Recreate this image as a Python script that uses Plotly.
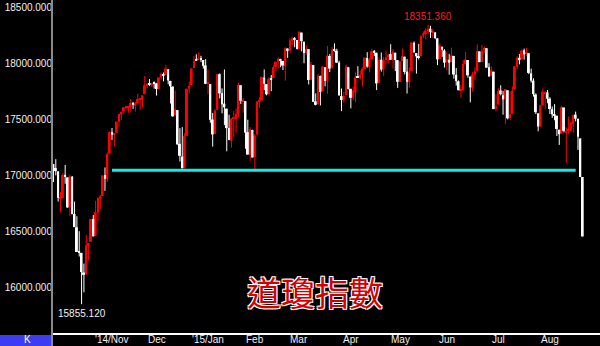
import pandas as pd
import plotly.graph_objects as go

# ---------------- data (Dow Jones daily OHLC, 2014-09-29 .. 2015-08-21) ----------------
holidays = ["2014-11-27", "2014-12-25", "2015-01-01", "2015-01-19", "2015-02-16",
            "2015-04-03", "2015-05-25", "2015-07-03"]
days = pd.bdate_range("2014-09-29", "2015-08-21")
dates = [d.strftime("%Y-%m-%d") for d in days if d.strftime("%Y-%m-%d") not in holidays]

opens = [
    17107, 17071,
    17041, 16800, 16802, 17010, 16987, 16720, 16993, 16660, 16542, 16324, 16313, 16139,
    16121, 16377, 16413, 16614, 16464, 16674, 16797, 16822, 17006, 16974, 17200,
    17390, 17366, 17386, 17483, 17549, 17574, 17613, 17610, 17615, 17655, 17627, 17648,
    17684, 17680, 17730, 17811, 17819, 17814, 17830,
    17827, 17776, 17880, 17910, 17904, 17952, 17849, 17798, 17540, 17588, 17287, 17173,
    17069, 17357, 17781, 17812, 17964, 18031, 18040, 18046, 18035, 17987,
    17823, 17821, 17504, 17374, 17592, 17908, 17740, 17646, 17601, 17428, 17315, 17511,
    17509, 17552, 17810, 17668, 17668, 17391, 17189, 17411,
    17169, 17370, 17665, 17673, 17878, 17819, 17729, 17869, 17874, 17974, 18020, 18039,
    18027, 17983, 18138, 18118, 18208, 18222, 18213,
    18134, 18280, 18199, 18101, 18132, 17859, 17990, 17665, 17640, 17893, 17756, 17970,
    17850, 18071, 17962, 18126, 18117, 18012, 17713, 17680, 17722, 17970,
    17778, 17699, 17748, 17880, 17875, 17902, 17953, 18053, 17971, 18040, 18107, 18100,
    17830, 18037, 17951, 18036, 18061, 18088, 18034, 18100, 18034,
    17841, 18025, 18065, 17932, 17838, 17934, 18188, 18097, 18070, 18069, 18254, 18267,
    18300, 18315, 18280, 18281, 18229, 18045, 18154, 18120,
    18017, 18038, 18018, 18072, 17903, 17846, 17764, 17765, 18000, 18035, 17887, 17788,
    17904, 17934, 18112, 18017, 18124, 18141, 17970, 17894, 17931, 17601,
    17638, 17763, 17720, 17685, 17765, 17518, 17555, 17772, 17975, 18055, 18040, 18122,
    18092, 18096, 17916, 17851, 17727, 17559, 17445, 17630, 17740, 17746,
    17690, 17596, 17550, 17538, 17413, 17380, 17611, 17392, 17402, 17407, 17462, 17547,
    17510, 17335, 16990,
]
highs = [
    17107, 17150,
    17041, 16857, 17027, 17099, 16987, 17011, 17000, 16771, 16640, 16507, 16313, 16218,
    16474, 16400, 16615, 16651, 16776, 16805, 16832, 17006, 17076, 17210, 17395,
    17428, 17384, 17485, 17555, 17575, 17614, 17627, 17627, 17687, 17656, 17660, 17734,
    17687, 17720, 17894, 17830, 17865, 17828, 17843,
    17827, 17881, 17924, 17924, 17991, 17952, 17849, 17800, 17763, 17588, 17427, 17436,
    17382, 17778, 17843, 17961, 18069, 18086, 18103, 18073, 18035, 18043,
    17951, 17821, 17563, 17598, 17911, 17916, 17782, 17951, 17601, 17547, 17517, 17580,
    17602, 17833, 17810, 17697, 17668, 17502, 17437, 17412,
    17372, 17666, 17704, 17885, 17951, 17819, 17883, 17902, 17990, 18020, 18059, 18047,
    18027, 18149, 18138, 18231, 18244, 18240, 18213,
    18290, 18280, 18199, 18164, 18132, 18018, 17990, 17737, 17912, 17896, 17980, 17970,
    18160, 18090, 18151, 18184, 18136, 18029, 17781, 17749, 17992, 17970,
    17778, 17797, 17925, 17980, 17941, 17972, 18058, 18105, 18056, 18136, 18125, 18100,
    18059, 18102, 18063, 18119, 18092, 18176, 18134, 18100, 18034,
    18025, 18137, 18065, 18044, 17970, 18191, 18201, 18097, 18179, 18252, 18291, 18318,
    18351.36, 18340, 18314, 18286, 18229, 18184, 18154, 18132,
    18108, 18090, 18146, 18072, 17963, 17853, 17813, 18036, 18107, 18035, 17887, 17929,
    17972, 18175, 18112, 18169, 18155, 18141, 18007, 17978, 17931, 17730,
    17785, 17810, 17760, 17777, 17765, 17755, 17800, 17978, 18069, 18088, 18129, 18137,
    18144, 18096, 17958, 17872, 17738, 17559, 17631, 17783, 17758, 17767,
    17703, 17621, 17641, 17538, 17413, 17628, 17611, 17435, 17530, 17486, 17546, 17575,
    17510, 17335, 16990,
]
lows = [
    16946, 17005,
    16771, 16674, 16802, 16930, 16716, 16642, 16659, 16543, 16321, 16281, 15855.12, 15961,
    16121, 16245, 16413, 16460, 16464, 16594, 16708, 16822, 16867, 16946, 17200,
    17321, 17264, 17386, 17436, 17502, 17551, 17596, 17563, 17572, 17599, 17576, 17648,
    17591, 17610, 17730, 17785, 17804, 17792, 17780,
    17718, 17776, 17859, 17845, 17904, 17819, 17647, 17528, 17540, 17281, 17129, 17068,
    17069, 17357, 17735, 17812, 17964, 18027, 18040, 18016, 17959, 17820,
    17731, 17475, 17262, 17374, 17592, 17692, 17559, 17454, 17220, 17319, 17253, 17345,
    17387, 17521, 17643, 17567, 17243, 17190, 17136, 17165,
    17037, 17370, 17609, 17673, 17764, 17720, 17729, 17757, 17874, 17938, 17961, 17971,
    17946, 17851, 18054, 18096, 18167, 18149, 18129,
    18134, 18112, 18006, 18082, 17817, 17859, 17662, 17630, 17640, 17630, 17756, 17800,
    17733, 17928, 17962, 18109, 18008, 17718, 17579, 17652, 17722, 17773,
    17603, 17674, 17660, 17874, 17859, 17800, 17953, 17967, 17924, 18040, 18070, 17767,
    17830, 17931, 17891, 18000, 18003, 18035, 17958, 17936, 17787,
    17841, 18025, 17907, 17736, 17789, 17934, 18098, 17913, 18040, 18069, 18232, 18220,
    18269, 18232, 18232, 18221, 17990, 18045, 18063, 17968,
    17946, 17904, 18018, 17869, 17807, 17764, 17700, 17765, 17994, 17877, 17657, 17752,
    17856, 17934, 18016, 18017, 18096, 17966, 17883, 17890, 17597, 17576,
    17638, 17719, 17547, 17465, 17505, 17499, 17555, 17772, 17955, 17996, 18040, 18039,
    18072, 17909, 17834, 17708, 17553, 17399, 17440, 17630, 17598, 17649,
    17553, 17519, 17497, 17357, 17277, 17380, 17389, 17116, 17375, 17393, 17386, 17488,
    17232, 16990, 16460,
]
closes = [
    17071, 17043,
    16804, 16802, 17009, 16991, 16719, 16994, 16659, 16544, 16321, 16315, 16142, 16117,
    16380, 16400, 16615, 16461, 16677, 16805, 16818, 17005, 16975, 17195, 17391,
    17367, 17384, 17485, 17554, 17573, 17614, 17615, 17612, 17652, 17635, 17648, 17688,
    17686, 17720, 17810, 17818, 17815, 17828, 17828,
    17776, 17880, 17913, 17901, 17959, 17853, 17801, 17533, 17597, 17281, 17180, 17069,
    17356, 17778, 17805, 17959, 18024, 18030, 18053, 18038, 17983, 17823,
    17833, 17501, 17371, 17585, 17908, 17737, 17640, 17613, 17427, 17321, 17511, 17516,
    17554, 17813, 17672, 17678, 17387, 17191, 17417, 17165,
    17362, 17666, 17673, 17885, 17824, 17729, 17868, 17863, 17973, 18019, 18047, 18029,
    17986, 18140, 18117, 18209, 18225, 18215, 18133,
    18289, 18204, 18097, 18136, 17857, 17996, 17662, 17635, 17895, 17749, 17977, 17849,
    18076, 17959, 18127, 18116, 18011, 17719, 17678, 17713, 17977, 17776,
    17698, 17763, 17881, 17875, 17903, 17958, 18057, 17977, 18037, 18113, 18106, 17826,
    18034, 17950, 18038, 18059, 18080, 18038, 18110, 18036, 17841,
    18024, 18070, 17929, 17841, 17925, 18191, 18106, 18068, 18060, 18252, 18273, 18299,
    18312, 18286, 18285, 18232, 18041, 18163, 18127, 18011,
    18041, 18011, 18076, 17906, 17849, 17766, 17765, 18000, 18039, 17899, 17791, 17905,
    17935, 18115, 18016, 18120, 18144, 17967, 17891, 17947, 17597, 17620,
    17758, 17731, 17684, 17777, 17515, 17549, 17760, 17978, 18054, 18035, 18120, 18086,
    18100, 17920, 17851, 17731, 17569, 17441, 17631, 17751, 17746, 17690,
    17598, 17550, 17541, 17420, 17373, 17615, 17403, 17402, 17409, 17477, 17546, 17512,
    17349, 16990, 16460,
]

month_tick_dates = ["2014-11-03", "2014-12-01", "2015-01-02", "2015-02-02", "2015-03-02",
                    "2015-04-01", "2015-05-01", "2015-06-01", "2015-07-01", "2015-08-03"]
month_tick_text = ["'14/Nov", "Dec", "'15/Jan", "Feb", "Mar", "Apr", "May", "Jun", "Jul", "Aug"]
y_ticks = [16000, 16500, 17000, 17500, 18000, 18500]

support_level = 17050
support_dates = ["2014-11-03", "2015-08-18"]
low_label = ("2014-10-15", 15855.12, "15855.120")
high_label = ("2015-05-19", 18351.36, "18351.360")
title_text = "道瓊指數"

assert len(dates) == len(opens) == len(highs) == len(lows) == len(closes)

UP, DOWN = "#ff0000", "#ffffff"
MIN_BODY = 9  # minimum visible body height (index points) for doji candles

# ---------------- figure ----------------
W, H = 600, 346
ML, MB = 53, 13
pw, ph = W - ML, H - MB
LABEL_Y = -6.5 / ph  # centre of the bottom label strip, in paper units

fig = go.Figure()

for is_up, col in ((True, UP), (False, DOWN)):
    idx = [i for i in range(len(dates)) if (closes[i] >= opens[i]) == is_up]
    wx, wy = [], []
    for i in idx:
        wx += [dates[i], dates[i], None]
        wy += [lows[i], highs[i], None]
    fig.add_trace(go.Scatter(x=wx, y=wy, mode="lines", line=dict(color=col, width=1),
                             hoverinfo="skip", showlegend=False, connectgaps=False))
    base = [min(opens[i], closes[i]) for i in idx]
    size = [max(abs(closes[i] - opens[i]), MIN_BODY) for i in idx]
    fig.add_trace(go.Bar(x=[dates[i] for i in idx], y=size, base=base, width=0.82,
                         marker=dict(color=col, line=dict(width=0)),
                         hoverinfo="skip", showlegend=False))

fig.add_trace(go.Scatter(
    x=support_dates, y=[support_level, support_level], mode="lines",
    line=dict(color="#19e6e6", width=3), hoverinfo="skip", showlegend=False,
))

font_ui = "Liberation Sans, Arial, sans-serif"
annotations = [
    dict(text="K", xref="paper", yref="paper", x=-26 / pw, y=LABEL_Y,
         showarrow=False, font=dict(size=10, color="#ffffff"),
         xanchor="center", yanchor="middle"),
    dict(text=low_label[2], x=low_label[0], y=low_label[1], xref="x", yref="y",
         showarrow=False, yanchor="top", yshift=-2, xanchor="center",
         font=dict(size=10, color="#f0f0f0")),
    dict(text=high_label[2], x=high_label[0], y=high_label[1], xref="x", yref="y",
         showarrow=False, yanchor="bottom", yshift=1, xanchor="center",
         font=dict(size=10, color="#ff1a1a")),
    dict(text=title_text, xref="paper", yref="paper",
         x=(315 - ML) / pw, y=(ph - 291) / ph, showarrow=False,
         xanchor="center", yanchor="middle",
         font=dict(family="Noto Sans CJK TC", size=34, color="#d40000",
                   shadow="-1px -1px 0 #ffffff, 1px -1px 0 #ffffff, -1px 1px 0 #ffffff, 1px 1px 0 #ffffff")),
]
for d, t in zip(month_tick_dates, month_tick_text):
    annotations.append(dict(text=t, x=d, xref="x", y=LABEL_Y, yref="paper",
                            showarrow=False, xanchor="center", yanchor="middle",
                            font=dict(size=10, color="#f0f0f0")))

fig.update_layout(
    width=W, height=H,
    margin=dict(l=ML, r=0, t=0, b=MB, pad=0),
    paper_bgcolor="#000000", plot_bgcolor="#000000",
    font=dict(family=font_ui, size=10, color="#f0f0f0"),
    barmode="overlay",
    xaxis=dict(
        type="category", range=[-0.2, 233.4], automargin=False,
        categoryorder="array", categoryarray=dates,
        showticklabels=False, showgrid=False, zeroline=False, ticks="",
        showline=True, linecolor="#ffffff", linewidth=1.5,
    ),
    yaxis=dict(
        range=[15598, 18571], tickvals=y_ticks, tickformat=".3f", automargin=False,
        showgrid=False, zeroline=False, ticks="", ticklen=0, showline=False,
        tickfont=dict(size=10, color="#f0f0f0"),
    ),
    shapes=[
        dict(type="line", xref="paper", yref="paper", x0=-1 / pw, x1=-1 / pw,
             y0=-MB / ph, y1=1, line=dict(color="#8a8a8a", width=2)),
        dict(type="rect", xref="paper", yref="paper", x0=-ML / pw, x1=-2 / pw,
             y0=-MB / ph, y1=-2 / ph, fillcolor="#3c3cf5", line=dict(width=0),
             layer="below"),
    ],
    annotations=annotations,
)

fig.write_html("out.html")
